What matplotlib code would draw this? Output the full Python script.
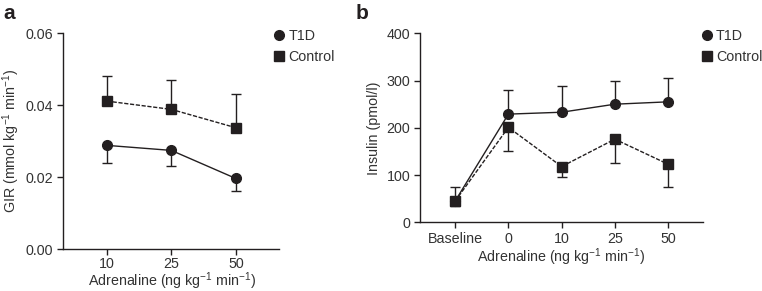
import matplotlib
matplotlib.use("Agg")
import matplotlib.pyplot as plt
from matplotlib.lines import Line2D

plt.rcParams['font.family'] = ['Liberation Sans', 'DejaVu Sans']
plt.rcParams['mathtext.fontset'] = 'custom'
plt.rcParams['mathtext.rm'] = 'Liberation Sans'
plt.rcParams['mathtext.default'] = 'regular'

# Panel a data
gir_doses = ["10", "25", "50"]
gir_t1d = [0.0288, 0.0274, 0.0196]
gir_t1d_err = [0.0049, 0.0043, 0.0035]
gir_ctrl = [0.0411, 0.0388, 0.0337]
gir_ctrl_err = [0.0069, 0.0083, 0.0094]

# Panel b data
ins_labels = ["Baseline", "0", "10", "25", "50"]
ins_t1d = [45, 229, 233, 250, 255]
ins_t1d_err = [30, 50, 55, 50, 50]
ins_ctrl = [45, 201, 118, 176, 123]
ins_ctrl_err = [10, 50, 22, 50, 48]

dark = '#231f20'
txt = '#333333'
fs = 10.3

fig = plt.figure(figsize=(7.62, 2.91), dpi=100)
axa = fig.add_axes([0.0827, 0.1443, 0.2835, 0.742])
axb = fig.add_axes([0.5512, 0.236, 0.371, 0.6495])

def style(ax):
    for s in ['top', 'right']:
        ax.spines[s].set_visible(False)
    for s in ['left', 'bottom']:
        ax.spines[s].set_linewidth(1.0)
        ax.spines[s].set_color(dark)
    ax.tick_params(direction='out', length=4, width=1.0, colors=dark,
                   labelsize=fs, labelcolor=txt, pad=3)

xlabel_text = "Adrenaline (ng kg$^{-1}$ min$^{-1}$)"

# Panel a
xa = list(range(len(gir_doses)))
axa.errorbar(xa, gir_ctrl, yerr=[[0]*3, gir_ctrl_err], fmt='s', color=dark,
             ms=6.5, capsize=3.5, elinewidth=1, capthick=1, zorder=3)
axa.plot(xa, gir_ctrl, linestyle=(0, (3, 1.2)), color=dark, lw=1)
axa.errorbar(xa, gir_t1d, yerr=[gir_t1d_err, [0]*3], fmt='o', color=dark,
             ms=7, capsize=3.5, elinewidth=1, capthick=1, zorder=3)
axa.plot(xa, gir_t1d, '-', color=dark, lw=1)
axa.set_xlim(-0.68, 2.67)
axa.set_ylim(0, 0.06)
axa.set_yticks([0, 0.02, 0.04, 0.06])
axa.set_yticklabels(["0.00", "0.02", "0.04", "0.06"])
axa.set_xticks(xa)
axa.set_xticklabels(gir_doses)
style(axa)
axa.tick_params(axis='x', pad=1.5)
axa.set_ylabel("GIR (mmol kg$^{-1}$ min$^{-1}$)", fontsize=fs, color=txt, labelpad=3)
fig.text(172 / 762, 1 - 286 / 291, xlabel_text, fontsize=fs, color=txt,
         ha='center', va='baseline')

# Panel b
xb = list(range(len(ins_labels)))
axb.errorbar(xb, ins_ctrl, yerr=[ins_ctrl_err, [0]*5], fmt='s', color=dark,
             ms=6.5, capsize=3.5, elinewidth=1, capthick=1, zorder=3)
axb.plot(xb, ins_ctrl, linestyle=(0, (3, 1.2)), color=dark, lw=1)
axb.errorbar(xb, ins_t1d, yerr=[[0]*5, ins_t1d_err], fmt='o', color=dark,
             ms=7, capsize=3.5, elinewidth=1, capthick=1, zorder=3)
axb.plot(xb, ins_t1d, '-', color=dark, lw=1)
axb.set_xlim(-0.66, 4.65)
axb.set_ylim(0, 400)
axb.set_yticks([0, 100, 200, 300, 400])
axb.set_xticks(xb)
axb.set_xticklabels(ins_labels)
style(axb)
axb.set_ylabel("Insulin (pmol/l)", fontsize=fs, color=txt, labelpad=4)
fig.text(561 / 762, 1 - 261.5 / 291, xlabel_text, fontsize=fs, color=txt,
         ha='center', va='baseline')

handles = [Line2D([], [], marker='o', linestyle='none', color=dark, ms=7),
           Line2D([], [], marker='s', linestyle='none', color=dark, ms=6.5)]
for xpos in (0.36, 0.921):
    fig.legend(handles, ["T1D", "Control"], loc='upper left',
               bbox_to_anchor=(xpos, 0.9), frameon=False, fontsize=fs,
               handlelength=0.7, handletextpad=0.3, labelspacing=0.45,
               borderaxespad=0, borderpad=0, labelcolor=txt)

fig.text(0.004, 0.985, "a", fontsize=15, fontweight='bold', color=dark, va='top')
fig.text(0.466, 0.985, "b", fontsize=15, fontweight='bold', color=dark, va='top')

fig.savefig("out.png", dpi=100)
